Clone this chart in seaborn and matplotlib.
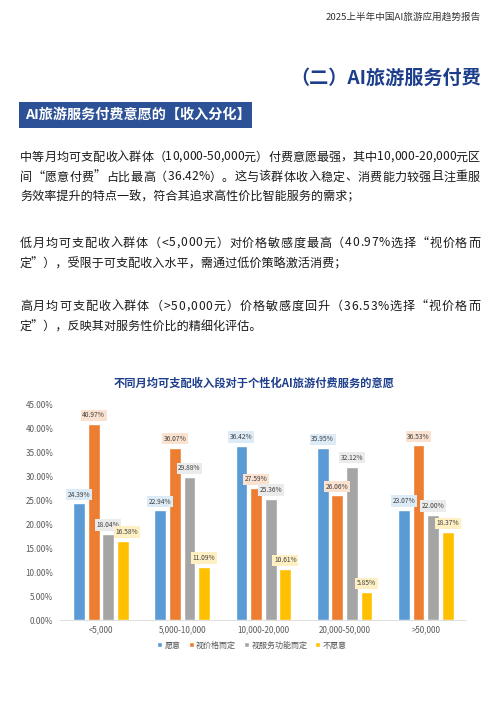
import pandas as pd
import seaborn as sns
import matplotlib.pyplot as plt

# data
groups = ["<5,000", "5,000-10,000", "10,000-20,000", "20,000-50,000", ">50,000"]
series = ["愿意", "视价格而定", "视服务功能而定", "不愿意"]
willing = [24.39, 22.94, 36.42, 35.95, 23.07]
by_price = [40.97, 36.07, 27.59, 26.06, 36.53]
by_function = [18.04, 29.88, 25.36, 32.12, 22.00]
unwilling = [16.58, 11.09, 10.61, 5.85, 18.37]
y_ticks = [0, 5, 10, 15, 20, 25, 30, 35, 40, 45]

colors = ["#5B9BD5", "#ED7D31", "#A5A5A5", "#FFC000"]
label_bg = ["#DDEBF7", "#FBE2D0", "#EBEBEB", "#FFF0C4"]

paragraphs = [
    ["中等月均可支配收入群体（10,000-50,000元）付费意愿最强，其中10,000-20,000元区",
     "间“愿意付费”占比最高（36.42%）。这与该群体收入稳定、消费能力较强且注重服",
     "务效率提升的特点一致，符合其追求高性价比智能服务的需求；"],
    ["低月均可支配收入群体（<5,000元）对价格敏感度最高（40.97%选择“视价格而",
     "定”），受限于可支配收入水平，需通过低价策略激活消费；"],
    ["高月均可支配收入群体（>50,000元）价格敏感度回升（36.53%选择“视价格而",
     "定”），反映其对服务性价比的精细化评估。"],
]

df = pd.DataFrame({
    "group": groups * 4,
    "series": [s for s in series for _ in groups],
    "value": willing + by_price + by_function + unwilling,
})

sns.set_theme(style="white")
plt.rcParams["font.family"] = ["Noto Sans CJK SC", "DejaVu Sans"]

W, H = 500, 707
fig = plt.figure(figsize=(5, 7.07), dpi=100)
fig.patch.set_facecolor("white")
renderer = fig.canvas.get_renderer()


def fy(px):
    return 1 - px / H


def text_width(s, size):
    t = fig.text(0, 0, s, fontsize=size)
    w = t.get_window_extent(renderer).width
    t.remove()
    return w


def justified(txt, y, x0=20, x1=480, size=8.7, color="#1a1a1a"):
    # spread the characters so the line fills x0..x1, like the justified page text
    n = len(txt)
    full = text_width(txt, size)
    extra = (x1 - x0 - full) / (n - 1)
    for i, ch in enumerate(txt):
        x = x0 + (text_width(txt[:i], size) if i else 0) + i * extra
        fig.text(x / W, fy(y), ch, ha="left", va="center", fontsize=size, color=color)


# page header + titles
fig.text(481 / W, fy(17), "2025上半年中国AI旅游应用趋势报告", ha="right", va="center",
         fontsize=6.9, color="#333333")
fig.text(481 / W, fy(78), "（二）AI旅游服务付费", ha="right", va="center",
         fontsize=13.8, fontweight="bold", color="#1D3E8C")
fig.patches.append(plt.Rectangle((19 / W, fy(128)), 233 / W, 26 / H, transform=fig.transFigure,
                                 facecolor="#2C5196", edgecolor="none"))
fig.text(25 / W, fy(115), "AI旅游服务付费意愿的【收入分化】", ha="left", va="center",
         fontsize=10.2, fontweight="bold", color="white")

# body text
line_y = [[157, 177, 197], [243, 264], [306, 327]]
for lines, ys in zip(paragraphs, line_y):
    for k, (txt, y) in enumerate(zip(lines, ys)):
        if k < len(lines) - 1:
            justified(txt, y)
        else:
            fig.text(20 / W, fy(y), txt, ha="left", va="center", fontsize=8.7, color="#1a1a1a")

# chart
fig.text(254 / W, fy(383), "不同月均可支配收入段对于个性化AI旅游付费服务的意愿", ha="center", va="center",
         fontsize=8.1, fontweight="bold", color="#1D3E8C")

ax = fig.add_axes([60.4 / W, 1 - 620 / H, 406 / W, 215 / H])
sns.barplot(data=df, x="group", y="value", hue="series", palette=colors,
            width=0.72, gap=0.2, ax=ax, saturation=1)
ax.set_ylim(0, 45)
ax.set_xlim(-0.5, 4.5)
ax.set_yticks(y_ticks)
ax.set_yticklabels([f"{t:.2f}%" for t in y_ticks], fontsize=5.8, color="#595959")
ax.tick_params(axis="x", labelsize=5.8, labelcolor="#595959", pad=4, length=0)
ax.tick_params(axis="y", length=0, pad=5)
ax.set_xlabel("")
ax.set_ylabel("")
for s in ["top", "right", "left"]:
    ax.spines[s].set_visible(False)
ax.spines["bottom"].set_color("#D9D9D9")
ax.spines["bottom"].set_linewidth(0.6)

anns = []
for cont, bg in zip(ax.containers, label_bg):
    anns.append(ax.bar_label(cont, labels=[f"{v.get_height():.2f}%" for v in cont], padding=3.5,
                             fontsize=4.8, color="#404040",
                             bbox=dict(boxstyle="square,pad=0.25", facecolor=bg, edgecolor="none")))
# the first "不愿意" label sits a bit to the right in the original, clear of 18.04%
dx, dy = anns[3][0].xyann
anns[3][0].xyann = (dx + 3, dy)

handles, labels = ax.get_legend_handles_labels()
ax.get_legend().remove()
fig.legend(handles, labels, loc="center", bbox_to_anchor=(252 / W, fy(645)), ncol=4,
           frameon=False, fontsize=5.8, handlelength=0.6, handleheight=0.6,
           handletextpad=0.3, columnspacing=1.0, labelcolor="#595959")

fig.savefig("out.png", dpi=100, facecolor="white")
